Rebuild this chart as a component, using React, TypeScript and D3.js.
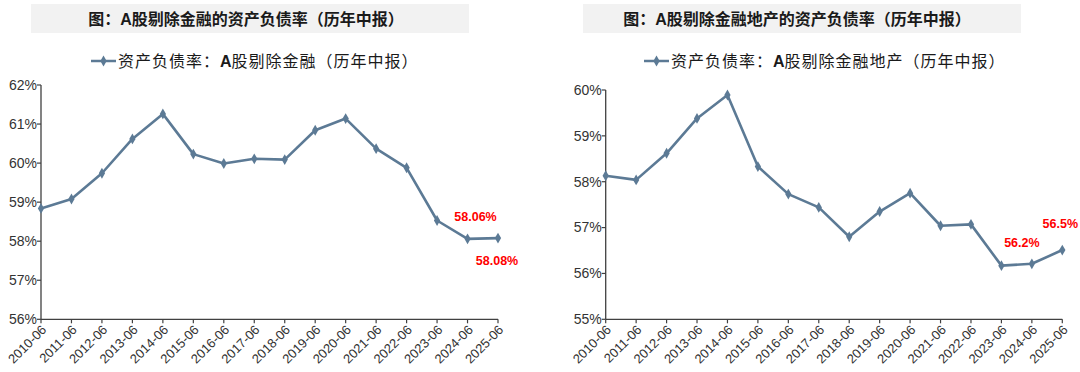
import React from "react";
import * as d3 from "d3";

const categories = [
  "2010-06", "2011-06", "2012-06", "2013-06", "2014-06", "2015-06", "2016-06", "2017-06",
  "2018-06", "2019-06", "2020-06", "2021-06", "2022-06", "2023-06", "2024-06", "2025-06",
];

const exFinance = [
  58.84, 59.08, 59.74, 60.62, 61.26, 60.23, 59.99, 60.11,
  60.09, 60.84, 61.14, 60.37, 59.88, 58.53, 58.06, 58.08,
];

const exFinanceRealEstate = [
  58.13, 58.04, 58.62, 59.38, 59.89, 58.33, 57.73, 57.44,
  56.8, 57.35, 57.75, 57.04, 57.07, 56.17, 56.21, 56.51,
];

const leftTicks = [56, 57, 58, 59, 60, 61, 62];
const rightTicks = [55, 56, 57, 58, 59, 60];

const leftTitle = "图：A股剔除金融的资产负债率（历年中报）";
const rightTitle = "图：A股剔除金融地产的资产负债率（历年中报）";
const leftLegend = ["资产负债率：", "A", "股剔除金融（历年中报）"];
const rightLegend = ["资产负债率：", "A", "股剔除金融地产（历年中报）"];

const leftNotes = [
  { index: 14, text: "58.06%", dx: 8, dy: -22 },
  { index: 15, text: "58.08%", dx: -1, dy: 23 },
];
const rightNotes = [
  { index: 14, text: "56.2%", dx: -10, dy: -21 },
  { index: 15, text: "56.5%", dx: -2, dy: -26 },
];

const LINE = "#5c7a95";
const AXIS = "#404040";
const TXT = "#333333";
const SANS = "Arial, 'Liberation Sans', sans-serif";
const CJK = "'Liberation Sans', 'Noto Sans CJK SC', sans-serif";

type Note = { index: number; text: string; dx: number; dy: number };

function Panel(props: {
  x0: number; x1: number; yTop: number; yBot: number;
  domain: [number, number]; ticks: number[]; values: number[];
  title: string; titleBox: [number, number]; titleCx: number;
  legend: string[]; legendX: number; notes: Note[];
}) {
  const { x0, x1, yTop, yBot, domain, ticks, values, title, titleBox, titleCx, legend, legendX, notes } = props;
  const x = d3.scalePoint<string>().domain(categories).range([x0, x1]);
  const y = d3.scaleLinear().domain(domain).range([yBot, yTop]);
  const line = d3.line<number>().x((_, i) => x(categories[i])!).y((d) => y(d));
  const diamond = d3.symbol().type(d3.symbolDiamond).size(34)()!;
  return (
    <g>
      <rect x={titleBox[0]} y={4} width={titleBox[1] - titleBox[0]} height={29} fill="#f2f2f2" />
      <text x={titleCx} y={24.5} textAnchor="middle" fontFamily={CJK} fontWeight="bold" fontSize={16} fill="#1a1a1a">
        {title}
      </text>
      <g>
        <line x1={legendX} x2={legendX + 25} y1={61} y2={61} stroke={LINE} strokeWidth={2.5} />
        <path d={diamond} transform={`translate(${legendX + 12.5},61)`} fill={LINE} />
        <text x={legendX + 27} y={66.5} fontSize={16} fill="#1a1a1a" letterSpacing={1}
          fontFamily="'Noto Sans CJK SC', sans-serif">
          <tspan>{legend[0]}</tspan>
          <tspan fontFamily={SANS} fontWeight="bold" letterSpacing={0}>{legend[1]}</tspan>
          <tspan>{legend[2]}</tspan>
        </text>
      </g>
      {/* y axis */}
      <line x1={x0} x2={x0} y1={yTop} y2={yBot} stroke={AXIS} strokeWidth={1.3} />
      {ticks.map((t) => (
        <g key={t}>
          <line x1={x0 - 4} x2={x0} y1={y(t)} y2={y(t)} stroke={AXIS} strokeWidth={1.2} />
          <text x={x0 - 4} y={y(t)} dy="0.35em" textAnchor="end" fontFamily={SANS} fontSize={14} fill={TXT}>
            {t}%
          </text>
        </g>
      ))}
      {/* x axis */}
      <line x1={x0} x2={x1} y1={yBot} y2={yBot} stroke={AXIS} strokeWidth={1.3} />
      {categories.map((c) => (
        <g key={c}>
          <line x1={x(c)!} x2={x(c)!} y1={yBot} y2={yBot + 4} stroke={AXIS} strokeWidth={1.2} />
          <text
            transform={`translate(${x(c)! + 3},${yBot + 8}) rotate(-45)`}
            textAnchor="end" dy="0.35em" fontFamily={SANS} fontSize={13} fill={TXT}
          >
            {c}
          </text>
        </g>
      ))}
      <path d={line(values)!} fill="none" stroke={LINE} strokeWidth={2.6} strokeLinejoin="round" />
      {values.map((v, i) => (
        <path key={i} d={diamond} transform={`translate(${x(categories[i])},${y(v)})`} fill={LINE} />
      ))}
      {notes.map((n) => (
        <text key={n.text} x={x(categories[n.index])! + n.dx} y={y(values[n.index]) + n.dy} dy="0.35em"
          textAnchor="middle" fontFamily={SANS} fontWeight="bold" fontSize={12.5} fill="#ff0000">
          {n.text}
        </text>
      ))}
    </g>
  );
}

export default function App() {
  return (
    <div style={{ position: "absolute", left: 0, top: 0 }}>
      <svg width={1080} height={372} style={{ display: "block", background: "#fff" }}>
        <Panel x0={41} x1={498} yTop={85} yBot={319.3} domain={[56, 62]} ticks={leftTicks}
          values={exFinance} title={leftTitle} titleBox={[31, 469]} titleCx={246}
          legend={leftLegend} legendX={91} notes={leftNotes} />
        <Panel x0={605.7} x1={1062.3} yTop={90} yBot={319.3} domain={[55, 60]} ticks={rightTicks}
          values={exFinanceRealEstate} title={rightTitle} titleBox={[583, 1021]} titleCx={797}
          legend={rightLegend} legendX={644} notes={rightNotes} />
      </svg>
    </div>
  );
}
